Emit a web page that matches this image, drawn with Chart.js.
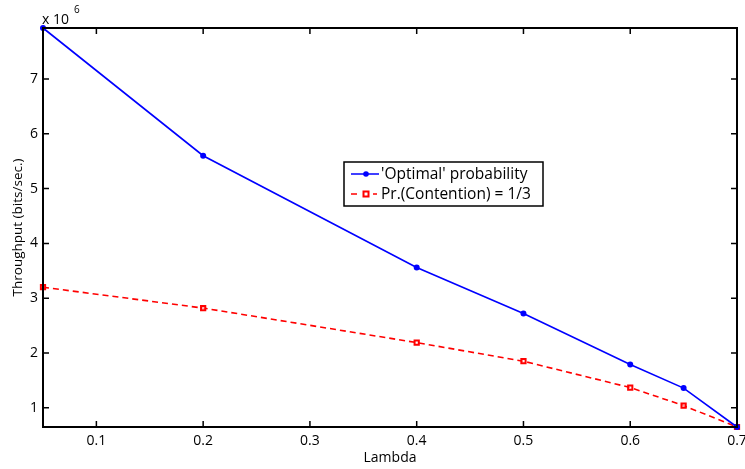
<!DOCTYPE html>
<html>
<head>
<meta charset="utf-8">
<script src="https://cdn.jsdelivr.net/npm/chart.js@4"></script>
<style>
  html, body { margin: 0; padding: 0; background: #fff; }
  #wrap { width: 745px; height: 469px; }
</style>
</head>
<body>
<div id="wrap"><canvas id="chart" width="745" height="469"></canvas></div>
<script>
// values (throughput in units of 10^6 bits/sec)
const lambdas = [0.05, 0.2, 0.4, 0.5, 0.6, 0.65, 0.7];
const optimalThroughput = [7.93, 5.6, 3.56, 2.72, 1.79, 1.36, 0.65];
const contentionThroughput = [3.2, 2.82, 2.19, 1.85, 1.37, 1.04, 0.65];
const xTicks = [0.1, 0.2, 0.3, 0.4, 0.5, 0.6, 0.7];
const yTicks = [1, 2, 3, 4, 5, 6, 7];
const seriesNames = ["'Optimal' probability", 'Pr.(Contention) = 1/3'];

const FONT = '"Open Sans", "DejaVu Sans", sans-serif';

const toPoints = (ys) => lambdas.map((x, i) => ({ x: x, y: ys[i] }));

// MATLAB-like frame: box with inward ticks on all four sides, exponent label, legend
const matlabFrame = {
    id: 'matlabFrame',
    afterDraw(chart) {
        const { ctx, chartArea: a, scales } = chart;
        const xs = scales.x, ys = scales.y;
        ctx.save();
        ctx.strokeStyle = '#000';
        ctx.lineWidth = 2;
        ctx.strokeRect(a.left, a.top, a.right - a.left, a.bottom - a.top);

        ctx.lineWidth = 1.5;
        const t = 6;
        ctx.beginPath();
        xTicks.forEach(v => {
            const px = xs.getPixelForValue(v);
            ctx.moveTo(px, a.bottom); ctx.lineTo(px, a.bottom - t);
            ctx.moveTo(px, a.top); ctx.lineTo(px, a.top + t);
        });
        yTicks.forEach(v => {
            const py = ys.getPixelForValue(v);
            ctx.moveTo(a.left, py); ctx.lineTo(a.left + t, py);
            ctx.moveTo(a.right, py); ctx.lineTo(a.right - t, py);
        });
        ctx.stroke();

        // exponent label
        ctx.fillStyle = '#000';
        ctx.font = '14px ' + FONT;
        ctx.textBaseline = 'alphabetic';
        ctx.textAlign = 'left';
        ctx.fillText('x 10', a.left - 1, a.top - 4);
        ctx.font = '10px ' + FONT;
        ctx.fillText('6', a.left + 31, a.top - 15);

        // legend
        const lx = 344, ly = 162, lw = 199, lh = 44;
        ctx.fillStyle = '#fff';
        ctx.fillRect(lx, ly, lw, lh);
        ctx.lineWidth = 1.5;
        ctx.strokeStyle = '#000';
        ctx.strokeRect(lx, ly, lw, lh);
        ctx.font = '15.5px ' + FONT;
        ctx.textBaseline = 'middle';
        chart.data.datasets.forEach((ds, i) => {
            const cy = ly + 12 + i * 20;
            ctx.strokeStyle = ds.borderColor;
            ctx.lineWidth = 1.5;
            ctx.setLineDash(ds.borderDash || []);
            ctx.beginPath();
            ctx.moveTo(lx + 7, cy); ctx.lineTo(lx + 35, cy);
            ctx.stroke();
            ctx.setLineDash([]);
            if (i === 0) {
                ctx.fillStyle = ds.borderColor;
                ctx.beginPath();
                ctx.arc(lx + 22, cy, 2.8, 0, Math.PI * 2);
                ctx.fill();
            } else {
                ctx.fillStyle = '#fff';
                ctx.fillRect(lx + 15, cy - 4, 14, 8);
                ctx.lineWidth = 2;
                ctx.strokeRect(lx + 19.5, cy - 2.5, 5, 5);
            }
            ctx.fillStyle = '#000';
            ctx.textAlign = 'left';
            ctx.fillText(ds.label, lx + 37, cy + 1);
        });
        ctx.restore();
    }
};

new Chart(document.getElementById('chart'), {
    type: 'line',
    data: {
        datasets: [
            {
                label: seriesNames[0],
                data: toPoints(optimalThroughput),
                borderColor: '#0000ff',
                backgroundColor: '#0000ff',
                borderWidth: 1.6,
                pointStyle: 'circle',
                pointRadius: 3,
                pointBorderWidth: 0,
                tension: 0
            },
            {
                label: seriesNames[1],
                data: toPoints(contentionThroughput),
                borderColor: '#ff0000',
                backgroundColor: 'rgba(255,255,255,0.6)',
                borderWidth: 1.6,
                borderDash: [6, 4],
                pointStyle: 'rect',
                pointRadius: 3,
                pointBorderWidth: 2,
                tension: 0
            }
        ]
    },
    options: {
        responsive: false,
        animation: false,
        clip: false,
        layout: { padding: { top: 28, right: 8, left: 0, bottom: 0 } },
        plugins: {
            legend: { display: false },
            tooltip: { enabled: false }
        },
        scales: {
            x: {
                type: 'linear',
                min: 0.05,
                max: 0.7,
                afterBuildTicks: (s) => { s.ticks = xTicks.map(v => ({ value: v })); },
                afterFit: (s) => { s.height = 42; s.paddingRight = 0; s.paddingLeft = 0; },
                grid: { display: false, drawTicks: false },
                border: { display: false },
                ticks: {
                    color: '#000',
                    font: { family: FONT, size: 14 },
                    padding: 6,
                    maxRotation: 0,
                    callback: (v) => v.toFixed(1)
                },
                title: {
                    display: true,
                    text: 'Lambda',
                    color: '#000',
                    font: { family: FONT, size: 14 },
                    padding: { top: 0, bottom: 3 }
                }
            },
            y: {
                type: 'linear',
                min: 0.65,
                max: 7.93,
                afterBuildTicks: (s) => { s.ticks = yTicks.map(v => ({ value: v })); },
                afterFit: (s) => { s.width = 43; },
                grid: { display: false, drawTicks: false },
                border: { display: false },
                ticks: {
                    color: '#000',
                    font: { family: FONT, size: 14 },
                    padding: 5
                },
                title: {
                    display: true,
                    text: 'Throughput (bits/sec.)',
                    color: '#000',
                    font: { family: FONT, size: 13.5 },
                    padding: { top: 10, bottom: 0 }
                }
            }
        }
    },
    plugins: [matlabFrame]
});
</script>
</body>
</html>
